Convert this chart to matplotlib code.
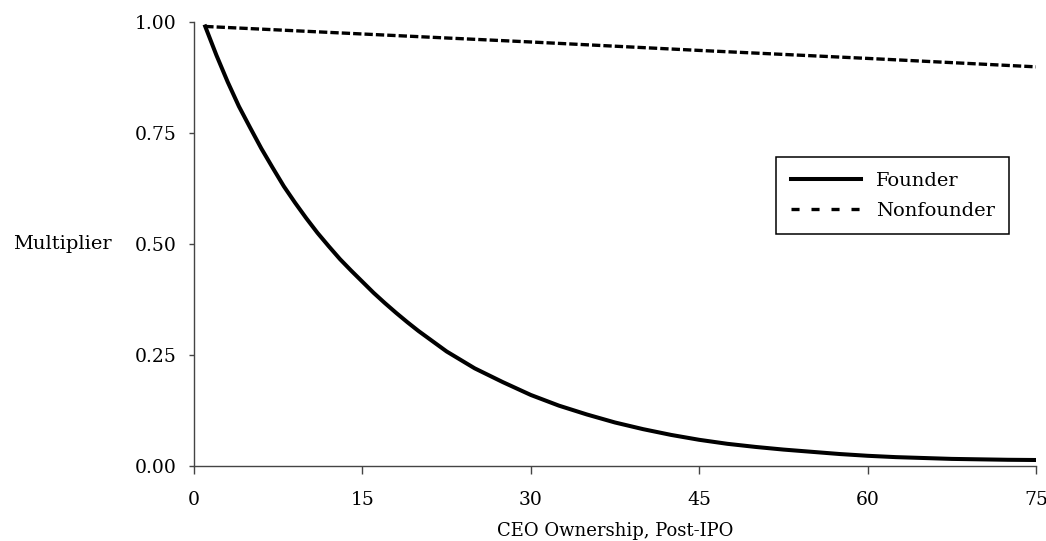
import numpy as np
import matplotlib
matplotlib.use("Agg")
import matplotlib.pyplot as plt
from matplotlib.lines import Line2D

# values
ownership = [1, 2, 3, 4, 5, 6, 7, 8, 9, 10, 11, 12, 13, 14, 15, 16, 17, 18, 19, 20,
             22.5, 25, 27.5, 30, 32.5, 35, 37.5, 40, 42.5, 45, 47.5, 50, 52.5, 55,
             57.5, 60, 62.5, 65, 67.5, 70, 72.5, 75]
founder = [0.990, 0.925, 0.865, 0.810, 0.762, 0.715, 0.672, 0.630, 0.593, 0.558,
           0.525, 0.495, 0.466, 0.440, 0.415, 0.390, 0.367, 0.345, 0.324, 0.304,
           0.258, 0.220, 0.189, 0.160, 0.136, 0.116, 0.098, 0.083, 0.070, 0.059,
           0.050, 0.043, 0.037, 0.032, 0.027, 0.023, 0.020, 0.018, 0.016, 0.015,
           0.014, 0.0135]
nonOwnership = [1, 15, 30, 45, 60, 75]
nonfounder = [0.990, 0.973, 0.955, 0.936, 0.918, 0.899]

xTicks = [0, 15, 30, 45, 60, 75]
yTicks = [0.0, 0.25, 0.50, 0.75, 1.00]
yTickLabels = ["0.00", "0.25", "0.50", "0.75", "1.00"]

plt.rcParams['font.family'] = ['DejaVu Serif']
plt.rcParams['font.size'] = 13.5
plt.rcParams['lines.scale_dashes'] = False

fig = plt.figure(figsize=(10.46, 5.41), dpi=100)
ax = fig.add_axes([194 / 1046, 1 - 466 / 541, 842 / 1046, 444 / 541])

ax.plot(ownership, founder, color='black', linewidth=2.9, solid_joinstyle='round')
ax.plot(nonOwnership, nonfounder, color='black', linewidth=2.4, dashes=(6.0, 2.2))

ax.set_xlim(0, 75)
ax.set_ylim(0, 1)
ax.set_xticks(xTicks)
ax.set_yticks(yTicks)
ax.set_yticklabels(yTickLabels)

for side in ['top', 'right']:
    ax.spines[side].set_visible(False)
for side in ['left', 'bottom']:
    ax.spines[side].set_color('#444444')
    ax.spines[side].set_linewidth(1.0)
ax.tick_params(axis='y', direction='out', length=3.8, width=1.0, color='#444444', pad=9)
ax.tick_params(axis='x', direction='out', length=5.5, width=1.0, color='#444444', pad=12.5)

ax.set_xlabel('CEO Ownership, Post-IPO', fontsize=13, labelpad=9.5)
ax.set_ylabel('Multiplier', fontsize=14, rotation=0, ha='right', va='center')
ax.yaxis.set_label_coords(-0.098, 0.5)

custom_lines = [
    Line2D([0], [0], color='black', linewidth=2.9),
    Line2D([0], [0], color='black', linewidth=2.4, dashes=(5.8, 8.6)),
]
leg = ax.legend(custom_lines, ['Founder', 'Nonfounder'], loc='upper right', fontsize=14,
                bbox_to_anchor=(0.968, 0.696), borderaxespad=0, fancybox=False,
                framealpha=1, edgecolor='black', handlelength=3.6, handletextpad=0.75,
                borderpad=0.75, labelspacing=0.62)
leg.get_frame().set_linewidth(1.1)

fig.savefig('out.png', dpi=100)
